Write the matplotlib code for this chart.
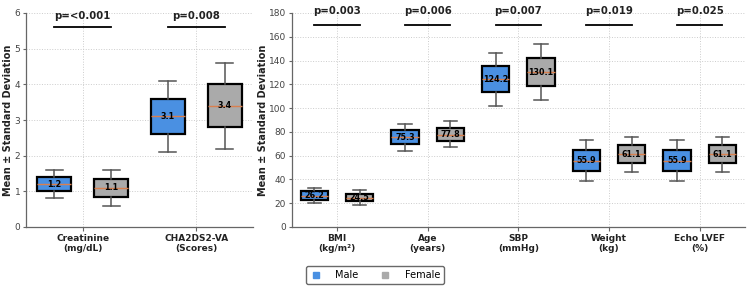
import matplotlib
matplotlib.use("Agg")
import matplotlib.pyplot as plt
from matplotlib.lines import Line2D

# ---- data ----
left_cats = ["Creatinine\n(mg/dL)", "CHA2DS2-VA\n(Scores)"]
left_male_med = [1.2, 3.1]
left_male_q1 = [1.0, 2.6]
left_male_q3 = [1.4, 3.6]
left_male_lo = [0.8, 2.1]
left_male_hi = [1.6, 4.1]
left_fem_med = [1.1, 3.4]
left_fem_q1 = [0.85, 2.8]
left_fem_q3 = [1.35, 4.0]
left_fem_lo = [0.6, 2.2]
left_fem_hi = [1.6, 4.6]
left_p = ["p=<0.001", "p=0.008"]

right_cats = ["BMI\n(kg/m²)", "Age\n(years)", "SBP\n(mmHg)", "Weight\n(kg)", "Echo LVEF\n(%)"]
right_male_med = [26.2, 75.3, 124.2, 55.9, 55.9]
right_male_q1 = [22.7, 69.8, 113.2, 47.4, 47.4]
right_male_q3 = [30.0, 81.5, 135.7, 64.6, 64.6]
right_male_lo = [20.0, 64.2, 102.0, 38.7, 38.7]
right_male_hi = [33.0, 86.6, 146.5, 73.2, 73.2]
right_fem_med = [24.5, 77.8, 130.1, 61.1, 61.1]
right_fem_q1 = [21.6, 72.6, 118.3, 54.0, 54.0]
right_fem_q3 = [28.0, 83.6, 142.2, 68.8, 68.8]
right_fem_lo = [18.5, 67.0, 106.5, 46.5, 46.5]
right_fem_hi = [31.0, 88.9, 154.0, 75.8, 75.8]
right_p = ["p=0.003", "p=0.006", "p=0.007", "p=0.019", "p=0.025"]

male_color = "#4A90E2"
female_color = "#AAAAAA"

fig = plt.figure(figsize=(7.5, 2.89), dpi=100)
ax1 = fig.add_axes([26/750, 62/289, (253-26)/750, 214/289])
ax2 = fig.add_axes([291.7/750, 62/289, (745-291.7)/750, 214/289])


def draw(ax, cats, mm, mq1, mq3, mlo, mhi, fm, fq1, fq3, flo, fhi, pvals, ylim, yline, ytext, yticks):
    n = len(cats)
    for grp, (med, q1, q3, lo, hi, col, off) in enumerate([
            (mm, mq1, mq3, mlo, mhi, male_color, -0.25),
            (fm, fq1, fq3, flo, fhi, female_color, 0.25)]):
        stats = []
        for i in range(n):
            stats.append(dict(med=med[i], q1=q1[i], q3=q3[i], whislo=lo[i], whishi=hi[i], fliers=[]))
        pos = [i + off for i in range(n)]
        ax.bxp(stats, positions=pos, widths=0.3, patch_artist=True, showfliers=False,
               boxprops=dict(facecolor=col, edgecolor="black", linewidth=1.6),
               medianprops=dict(color="#D9804F", linewidth=1.0),
               whiskerprops=dict(color="#555555", linewidth=1.1),
               capprops=dict(color="#555555", linewidth=1.1), zorder=3)
        for i in range(n):
            ax.text(pos[i], med[i], f"{med[i]:.1f}", ha="center", va="center",
                    fontsize=5.8, fontweight="bold", color="black", zorder=5)
    for i in range(n):
        ax.plot([i - 0.25, i + 0.25], [yline, yline], color="black", lw=1.3, clip_on=False, zorder=4)
        ax.text(i, ytext, pvals[i], ha="center", va="bottom", fontsize=7.3,
                fontweight="bold", color="#222222", clip_on=False)
    ax.set_xlim(-0.5, n - 0.5)
    ax.set_ylim(*ylim)
    ax.set_yticks(yticks)
    ax.set_xticks(range(n))
    ax.set_xticklabels(cats, fontsize=6.5, fontweight="bold", color="#222222")
    ax.tick_params(axis="y", labelsize=6.5, colors="#666666", labelcolor="#444444", length=2.5, width=0.8, pad=1.5)
    ax.tick_params(axis="x", length=3, width=0.8, colors="#666666", labelcolor="#222222", pad=2)
    for s in ["top", "right"]:
        ax.spines[s].set_visible(False)
    for s in ["left", "bottom"]:
        ax.spines[s].set_color("#666666")
        ax.spines[s].set_linewidth(0.9)
    ax.grid(True, linestyle=":", color="#CCCCCC", linewidth=0.7, zorder=0)
    ax.set_axisbelow(True)
    ax.set_ylabel("Mean ± Standard Deviation", fontsize=7, fontweight="bold", color="#222222", labelpad=1)


draw(ax1, left_cats, left_male_med, left_male_q1, left_male_q3, left_male_lo, left_male_hi,
     left_fem_med, left_fem_q1, left_fem_q3, left_fem_lo, left_fem_hi, left_p,
     (0, 6), 5.6, 5.78, range(0, 7))
draw(ax2, right_cats, right_male_med, right_male_q1, right_male_q3, right_male_lo, right_male_hi,
     right_fem_med, right_fem_q1, right_fem_q3, right_fem_lo, right_fem_hi, right_p,
     (0, 180), 170, 177.5, range(0, 181, 20))

handles = [Line2D([], [], marker="s", linestyle="none", color=male_color, markersize=5),
           Line2D([], [], marker="s", linestyle="none", color=female_color, markersize=5)]
fig.legend(handles, ["Male", "Female"], loc="center", bbox_to_anchor=(375/750, 1 - 275/289),
           ncol=2, fontsize=7, frameon=True, edgecolor="#444444", fancybox=True,
           handlelength=1.2, handletextpad=1.4, columnspacing=2.2, borderpad=0.4)

fig.savefig("out.png", dpi=100)
